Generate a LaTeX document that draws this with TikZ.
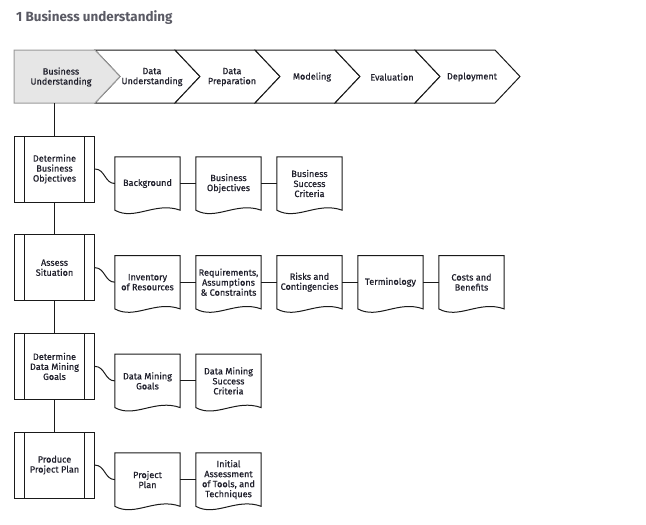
\documentclass[tikz,border=0pt]{standalone}
\usepackage{fontspec}
\setmainfont{Fira Sans}
\newfontfamily\dfont{Fira Sans}[RawFeature={embolden=0.6}]
\definecolor{textc}{HTML}{20202C}
\definecolor{linec}{HTML}{1A1A1A}
\definecolor{titlec}{HTML}{5A5A64}
\definecolor{firstfill}{HTML}{E6E6E6}
\definecolor{firstline}{HTML}{9A9A9A}
\newcommand\docdraw[1]{\draw[ln] (#1.north west) -- (#1.north east) -- (#1.south east) .. controls +(-25,-9) and +(20,11) .. (#1.south west) -- cycle;}
\begin{document}
\begin{tikzpicture}[x=1pt,y=-1pt,
  ln/.style={draw=linec, line width=1pt},
  txt/.style={font=\dfont\fontsize{9.1}{10}\selectfont, text=textc, align=center},
  proc/.style={ln, txt, minimum width=80pt, minimum height=66pt, inner sep=0pt,
    path picture={\draw[linec, line width=1pt] ([xshift=10pt]path picture bounding box.north west) -- ([xshift=10pt]path picture bounding box.south west) ([xshift=-10pt]path picture bounding box.north east) -- ([xshift=-10pt]path picture bounding box.south east);}},
  doc/.style={txt, minimum width=65pt, minimum height=53pt, inner sep=0pt},
  chev/.style={ln, fill=white}]
\useasboundingbox (0,0) rectangle (646,525);
\node[anchor=base west, font=\fontsize{13.4}{15}\selectfont\bfseries, text=titlec, inner sep=0pt] (title) at (16,21) {1 Business understanding};
% phase chevrons
\foreach \i/\t in {1/{Data\\Understanding},2/{Data\\Preparation},3/{Modeling},4/{Evaluation},5/{Deployment}} {
  \pgfmathsetmacro\xo{95+80*(\i-1)}
  \draw[chev] (\xo,50) -- ++(80,0) -- ++(25,26.5) -- ++(-25,26.5) -- ++(-80,0) -- ++(25,-26.5) -- cycle;
  \node[txt] (ph\i) at (\xo+57,77) {\t};
}
\draw[line width=1pt, draw=firstline, fill=firstfill] (14,50) -- (95,50) -- (120,76.5) -- (95,103) -- (14,103) -- cycle;
\node[txt] (ph0) at (61,77) {Business\\Understanding};
\coordinate (c0) at (54.5,103);
% tasks
\def\ya{169}\def\yb{267.7}\def\yc{366.4}\def\yd{465.1}
\node[proc] (p1) at (54.5,\ya) {Determine\\Business\\Objectives};
\node[proc] (p2) at (54.5,\yb) {Assess\\Situation};
\node[proc] (p3) at (54.5,\yc) {Determine\\Data Mining\\Goals};
\node[proc] (p4) at (54.5,\yd) {Produce\\Project Plan};
\draw[ln] (c0) -- (p1.north);
\draw[ln] (p1.south) -- (p2.north);
\draw[ln] (p2.south) -- (p3.north);
\draw[ln] (p3.south) -- (p4.north);
% outputs
\node[doc] (d11) at (147.5,\ya+14.5) {Background};
\node[doc] (d12) at (228.5,\ya+14.5) {Business\\Objectives};
\node[doc] (d13) at (309.5,\ya+14.5) {Business\\Success\\Criteria};
\node[doc] (d21) at (147.5,\yb+14.5) {Inventory\\of Resources};
\node[doc] (d22) at (228.5,\yb+14.5) {Requirements,\\Assumptions\\\& Constraints};
\node[doc] (d23) at (309.5,\yb+14.5) {Risks and\\Contingencies};
\node[doc] (d24) at (390.5,\yb+14.5) {Terminology};
\node[doc] (d25) at (471.5,\yb+14.5) {Costs and\\Benefits};
\node[doc] (d31) at (147.5,\yc+14.5) {Data Mining\\Goals};
\node[doc] (d32) at (228.5,\yc+14.5) {Data Mining\\Success\\Criteria};
\node[doc] (d41) at (147.5,\yd+14.5) {Project\\Plan};
\node[doc] (d42) at (228.5,\yd+14.5) {Initial\\Assessment\\of Tools, and\\Techniques};
\foreach \d in {d11,d12,d13,d21,d22,d23,d24,d25,d31,d32,d41,d42} {\docdraw{\d}}
\foreach \p/\d in {p1/d11,p2/d21,p3/d31,p4/d41} {
  \draw[ln] (\p.east) .. controls +(10,0) and +(-10,0) .. (\d.west);
}
\foreach \a/\b in {d11/d12,d12/d13,d21/d22,d22/d23,d23/d24,d24/d25,d31/d32,d41/d42} {
  \draw[ln] (\a.east) -- (\b.west);
}
\end{tikzpicture}
\end{document}
